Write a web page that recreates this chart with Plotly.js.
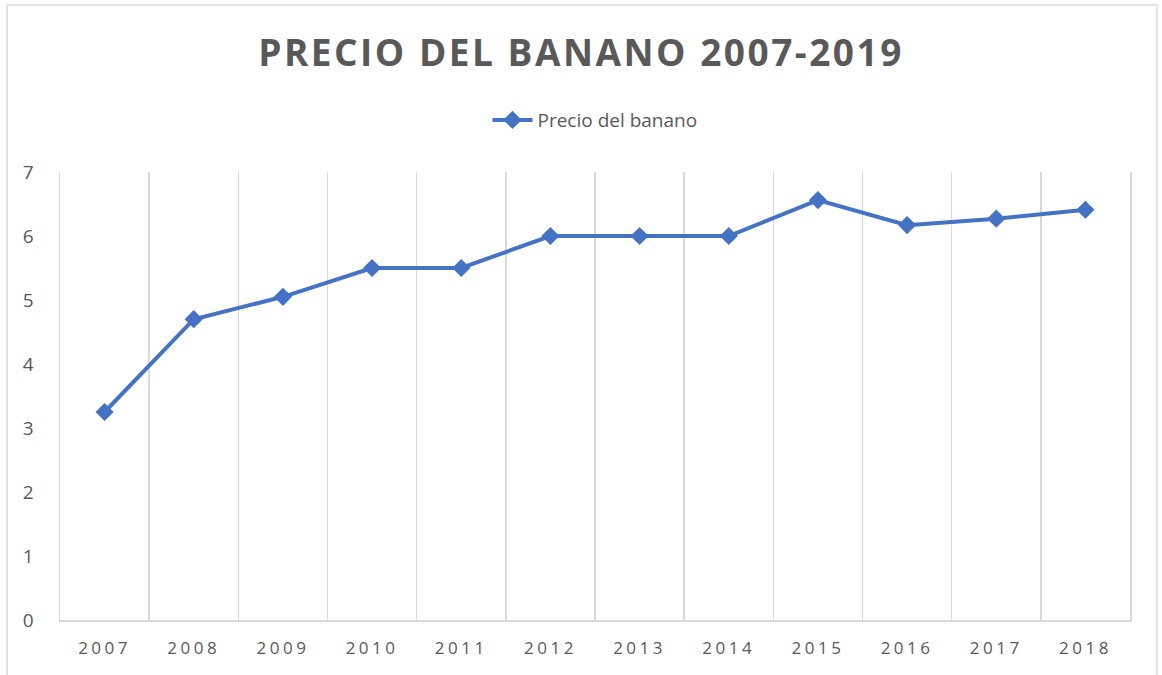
<!DOCTYPE html>
<html>
<head>
<meta charset="utf-8">
<script src="https://cdn.plot.ly/plotly-3.0.1.min.js"></script>
<style>
html,body{margin:0;padding:0;background:#fff;}
#chart{width:1162px;height:675px;}
</style>
</head>
<body>
<div id="chart"></div>
<script>
const years = ["2007","2008","2009","2010","2011","2012","2013","2014","2015","2016","2017","2018"];
const prices = [3.25, 4.70, 5.05, 5.50, 5.50, 6.00, 6.00, 6.00, 6.56, 6.17, 6.27, 6.41];
const seriesName = "Precio del banano";
const chartTitle = "PRECIO DEL BANANO 2007-2019";
const yTicks = [0,1,2,3,4,5,6,7];

const textColor = "#595959";
const gridColor = "#d9d9d9";

const trace = {
  x: years,
  y: prices,
  name: seriesName,
  type: "scatter",
  mode: "lines+markers",
  line: {color: "#4472C4", width: 4},
  marker: {symbol: "diamond", size: 14, color: "#4472C4"}
};

const layout = {
  width: 1162,
  height: 675,
  margin: {l: 60, r: 32, t: 172, b: 55},
  paper_bgcolor: "#ffffff",
  plot_bgcolor: "#ffffff",
  showlegend: true,
  title: {
    text: "<b>" + chartTitle + "</b>",
    x: 0.5, xanchor: "center",
    y: 0.921, yanchor: "middle",
    font: {family: "Open Sans, sans-serif", size: 37, color: textColor}
  },
  legend: {
    orientation: "h",
    x: 0.5, xanchor: "center",
    y: 1.116, yanchor: "middle",
    itemwidth: 40,
    font: {family: "Open Sans, sans-serif", size: 19, color: textColor}
  },
  xaxis: {
    type: "category",
    range: [-0.5, 11.5],
    tickson: "boundaries",
    showgrid: true,
    gridcolor: gridColor,
    gridwidth: 1.5,
    showline: true,
    linecolor: gridColor,
    linewidth: 1.5,
    ticks: "",
    ticklen: 0,
    ticklabelstandoff: 12,
    tickfont: {family: "Open Sans, sans-serif", size: 17, color: textColor},
    zeroline: false,
    fixedrange: true
  },
  yaxis: {
    range: [0, 7],
    tickvals: yTicks,
    showgrid: false,
    zeroline: false,
    showline: true,
    mirror: true,
    linecolor: gridColor,
    linewidth: 1.5,
    ticks: "",
    ticklabelstandoff: 21,
    tickfont: {family: "Open Sans, sans-serif", size: 19, color: textColor},
    fixedrange: true
  },
  shapes: [{
    type: "rect",
    xref: "paper", yref: "paper",
    x0: -0.0495, x1: 1.0252, y0: -0.14, y1: 1.3728,
    line: {color: gridColor, width: 1.5},
    fillcolor: "rgba(0,0,0,0)",
    layer: "below"
  }]
};

Plotly.newPlot("chart", [trace], layout, {displayModeBar: false, staticPlot: true}).then(function(){
  document.querySelectorAll(".gtitle").forEach(function(t){ t.style.letterSpacing = "2.5px"; });
  document.querySelectorAll(".xtick text").forEach(function(t){ t.style.letterSpacing = "3.5px"; });
});
</script>
</body>
</html>
